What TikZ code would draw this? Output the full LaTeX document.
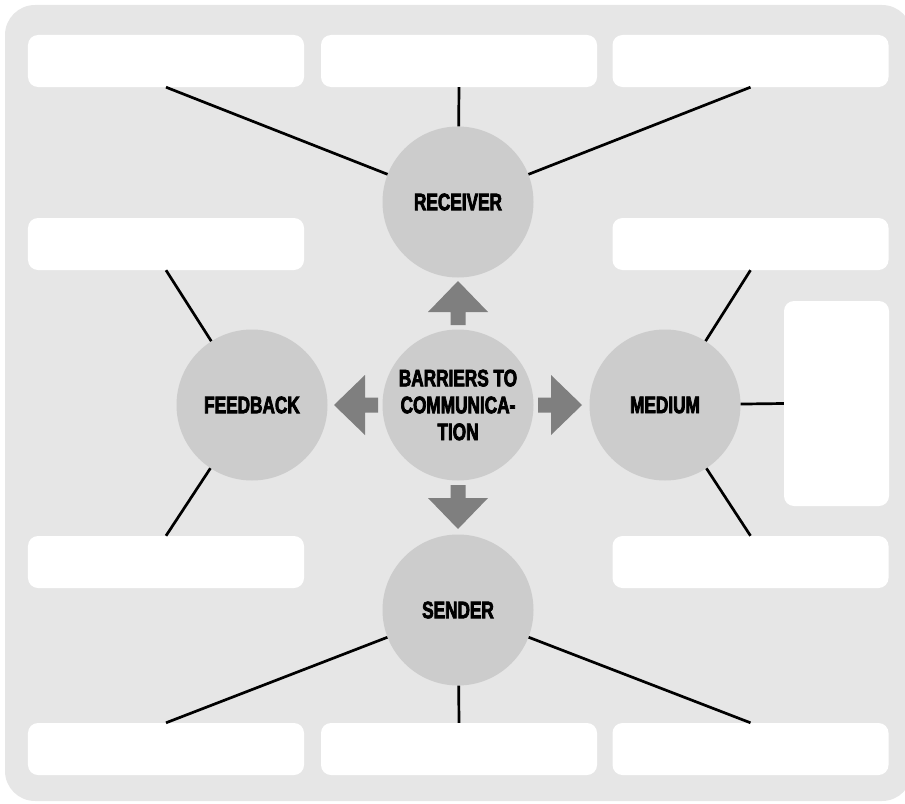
\documentclass[tikz,border=0pt]{standalone}
\usepackage{fontspec}
\newfontfamily\labfont{Liberation Sans Bold}[FakeStretch=0.72,FakeBold=3]
\definecolor{panel}{HTML}{E6E6E6}
\definecolor{disc}{HTML}{CCCCCC}
\definecolor{pointer}{HTML}{7F7F7F}
\begin{document}
\begin{tikzpicture}[x=1bp,y=-1bp,
  notebox/.style={draw=none,fill=white,rounded corners=10bp,inner sep=0pt,
    minimum width=276bp,minimum height=52bp},
  topic/.style={circle,fill=disc,draw=none,inner sep=0pt,minimum size=151bp,
    font=\labfont\fontsize{24}{27}\selectfont,align=center},
  link/.style={draw=black,line width=2.7bp},
  pics/fatarrow/.style={code={
    \fill[pointer] (80,-7.5) -- (93,-7.5) -- (93,-30) -- (124,0) -- (93,30)
      -- (93,7.5) -- (80,7.5) -- cycle;}}]
\useasboundingbox (0,0) rectangle (905,804);
\clip (0,0) rectangle (905,804);
% panel
\fill[panel,rounded corners=30bp] (5,5) rectangle (912,801);
% empty note boxes
\node[notebox] (tl) at (166,61) {};
\node[notebox] (tm) at (459,61) {};
\node[notebox] (tr) at (750.5,61) {};
\node[notebox] (ml) at (166,244) {};
\node[notebox] (mr) at (750.5,244) {};
\node[notebox,minimum width=105bp,minimum height=205bp] (side) at (836.5,403.5) {};
\node[notebox] (ll) at (166,562) {};
\node[notebox] (lr) at (750.5,562) {};
\node[notebox] (bl) at (166,749) {};
\node[notebox] (bm) at (459,749) {};
\node[notebox] (br) at (750.5,749) {};
% topic discs
\node[topic] (hub) at (458,405) {BARRIERS TO\\COMMUNICA-\\TION};
\node[topic] (rcv) at (458,202) {RECEIVER};
\node[topic] (snd) at (458,610) {SENDER};
\node[topic] (fbk) at (252,405) {FEEDBACK};
\node[topic] (med) at (665,405) {MEDIUM};
% arrows out of the hub
\pic at (hub.center) {fatarrow};
\pic[rotate=90] at (hub.center) {fatarrow};
\pic[rotate=180] at (hub.center) {fatarrow};
\pic[rotate=270] at (hub.center) {fatarrow};
% connectors
\draw[link] (rcv) -- (tl.south);
\draw[link] (rcv) -- (tm.south);
\draw[link] (rcv) -- (tr.south);
\draw[link] (fbk) -- (ml.south);
\draw[link] (fbk) -- (ll.north);
\draw[link] (med) -- (mr.south);
\draw[link] (med) -- (side.west);
\draw[link] (med) -- (lr.north);
\draw[link] (snd) -- (bl.north);
\draw[link] (snd) -- (bm.north);
\draw[link] (snd) -- (br.north);
\end{tikzpicture}
\end{document}
